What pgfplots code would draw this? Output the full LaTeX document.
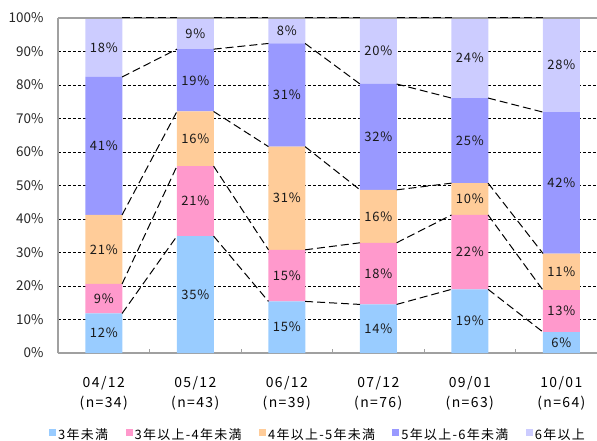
\documentclass[border=0pt]{standalone}
\usepackage{fontspec}
\setmainfont{Noto Sans CJK JP}
\newfontfamily\jpa[LetterSpace=6]{Noto Sans CJK JP}
\newfontfamily\jpb[LetterSpace=10]{Noto Sans CJK JP}
\usepackage{pgfplots}
\pgfplotsset{compat=1.18}
\usepackage{pgfplotstable}
\definecolor{cA}{HTML}{99CCFF}
\definecolor{cB}{HTML}{FF99CC}
\definecolor{cC}{HTML}{FFCC99}
\definecolor{cD}{HTML}{9999FF}
\definecolor{cE}{HTML}{CCCCFF}
\definecolor{axgray}{HTML}{A0A0A0}

\pgfplotstableread{
x a b c d e
0 11.8 8.8 20.6 41.2 17.6
1 34.9 20.9 16.3 18.6 9.3
2 15.4 15.4 30.8 30.8 7.6
3 14.5 18.4 15.8 31.6 19.7
4 19.0 22.2 9.5 25.4 23.9
5 6.25 12.5 10.95 42.2 28.1
}\bars

\pgfplotstableread{
x y l
0 5.9 12
0 16.2 9
0 30.9 21
0 61.8 41
0 91.2 18
1 17.45 35
1 45.35 21
1 63.95 16
1 81.4 19
1 95.35 9
2 7.7 15
2 23.1 15
2 46.2 31
2 77.0 31
2 96.2 8
3 7.25 14
3 23.7 18
3 40.8 16
3 64.5 32
3 90.15 20
4 9.5 19
4 30.1 22
4 45.95 10
4 63.4 25
4 88.05 24
5 3.1 6
5 12.5 13
5 24.2 11
5 50.8 42
5 85.9 28
}\labs

\begin{document}
\begin{tikzpicture}
\begin{axis}[
  scale only axis, width=539bp, height=335bp,
  at={(0,0)}, anchor=south west,
  xmin=-0.5, xmax=5.39, ymin=0, ymax=100,
  ybar stacked, bar width=37bp,
  axis x line*=bottom, axis y line*=left,
  axis line style={-, draw=axgray, line width=1.5bp},
  xtick={0,1,2,3,4,5},
  xticklabels={{04/12\\(n=34)},{05/12\\(n=43)},{06/12\\(n=39)},{07/12\\(n=76)},{09/01\\(n=63)},{10/01\\(n=64)}},
  xticklabel style={align=center, font=\jpb\fontsize{14}{20}\selectfont, yshift=-20bp},
  minor xtick={0.5,1.5,2.5,3.5,4.5},
  ytick={0,10,...,100},
  yticklabels={0\%,10\%,20\%,30\%,40\%,50\%,60\%,70\%,80\%,90\%,100\%},
  yticklabel style={font=\fontsize{13.5}{14}\selectfont, xshift=-11bp, text=black!85},
  major tick length=0pt, minor tick length=4bp, tick align=inside,
  tick style={draw=axgray, line width=1bp},
  ymajorgrids,
  grid style={black, dash pattern=on 3bp off 2bp, line width=0.8bp},
  legend columns=5,
  legend cell align=left,
  legend image code/.code={\fill[#1] (0bp,-1bp) rectangle (7bp,6bp);},
  legend style={at={(0,0)}, anchor=west, xshift=-9bp, yshift=-82bp, draw=none, fill=none, inner sep=0pt,
    font=\jpb\fontsize{13}{14}\selectfont,
    /tikz/every even column/.append style={column sep=15.5bp}},
  after end axis/.code={\draw[axgray, line width=1.5bp] (rel axis cs:0,1) -- (rel axis cs:1,1);},
]
\addplot[fill=cA, draw=none] table[x=x, y=a]{\bars};
\addplot[fill=cB, draw=none] table[x=x, y=b]{\bars};
\addplot[fill=cC, draw=none] table[x=x, y=c]{\bars};
\addplot[fill=cD, draw=none] table[x=x, y=d]{\bars};
\addplot[fill=cE, draw=none] table[x=x, y=e]{\bars};
\legend{3年未満, 3年以上-4年未満, 4年以上-5年未満, 5年以上-6年未満, 6年以上}
\end{axis}
\begin{axis}[
  scale only axis, width=539bp, height=335bp,
  at={(0,0)}, anchor=south west,
  xmin=-0.5, xmax=5.39, ymin=0, ymax=100,
  hide axis, clip=false,
]
\pgfplotsset{sl/.style={black, dash pattern=on 8bp off 4bp, line width=1bp, mark=none, unbounded coords=jump}}
\addplot[sl] coordinates {(0.2,11.8)(0.8,34.9)(1,nan)(1.2,34.9)(1.8,15.4)(2,nan)(2.2,15.4)(2.8,14.5)(3,nan)(3.2,14.5)(3.8,19.0)(4,nan)(4.2,19.0)(4.8,6.25)};
\addplot[sl] coordinates {(0.2,20.6)(0.8,55.8)(1,nan)(1.2,55.8)(1.8,30.8)(2,nan)(2.2,30.8)(2.8,32.9)(3,nan)(3.2,32.9)(3.8,41.2)(4,nan)(4.2,41.2)(4.8,18.75)};
\addplot[sl] coordinates {(0.2,41.2)(0.8,72.1)(1,nan)(1.2,72.1)(1.8,61.6)(2,nan)(2.2,61.6)(2.8,48.7)(3,nan)(3.2,48.7)(3.8,50.7)(4,nan)(4.2,50.7)(4.8,29.7)};
\addplot[sl] coordinates {(0.2,82.4)(0.8,90.7)(1,nan)(1.2,90.7)(1.8,92.4)(2,nan)(2.2,92.4)(2.8,80.3)(3,nan)(3.2,80.3)(3.8,76.1)(4,nan)(4.2,76.1)(4.8,71.9)};
\addplot[sl] coordinates {(0.2,100)(0.8,100)(1,nan)(1.2,100)(1.8,100)(2,nan)(2.2,100)(2.8,100)(3,nan)(3.2,100)(3.8,100)(4,nan)(4.2,100)(4.8,100)};
\addplot[draw=none, mark=none, nodes near coords={\pgfplotspointmeta\%}, point meta=explicit symbolic,
  nodes near coords style={anchor=center, inner sep=0pt, font=\jpa\fontsize{13}{13}\selectfont, text=black!90}]
  table[x=x, y=y, meta=l]{\labs};
\end{axis}
\pgfresetboundingbox
\path[use as bounding box] (-58bp,-88bp) rectangle (539bp,353bp);
\end{tikzpicture}
\end{document}
